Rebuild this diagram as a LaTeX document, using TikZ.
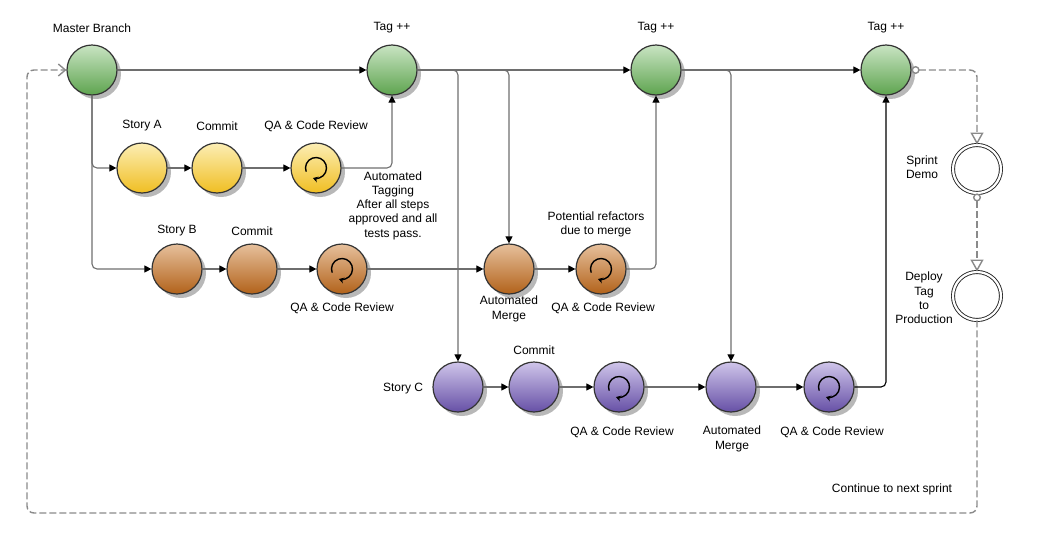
\documentclass[tikz,border=0pt]{standalone}
\usepackage{fontspec}
\setmainfont{Liberation Sans}
\usetikzlibrary{arrows.meta,shadows,calc}
\definecolor{gTop}{HTML}{C9E4C3}
\definecolor{gBot}{HTML}{5EA44F}
\definecolor{yTop}{HTML}{FCEEB4}
\definecolor{yBot}{HTML}{F0BE22}
\definecolor{bTop}{HTML}{E6C09C}
\definecolor{bBot}{HTML}{B2621A}
\definecolor{pTop}{HTML}{CFC5EA}
\definecolor{pBot}{HTML}{6650A6}
\definecolor{lineGray}{HTML}{6E6E6E}
\definecolor{dashGray}{HTML}{8A8A8A}
\newcommand\qaicon[1]{\draw[line width=1.4pt,black,-{Stealth[length=5pt,width=6pt]}] ($(#1)+(200:10.5pt)$) arc[start angle=200, end angle=-107, radius=10.5pt];}
\begin{document}
\begin{tikzpicture}[x=1pt,y=1pt,
  lbl/.style={font=\fontsize{12}{14.3}\selectfont, align=center, inner sep=0pt},
  circ/.style={circle, minimum size=50pt, inner sep=0pt, draw=black!80, line width=1.2pt,
     drop shadow={shadow xshift=4pt, shadow yshift=-4pt, fill=black, opacity=0.28}},
  gnode/.style={circ, top color=gTop, bottom color=gBot},
  ynode/.style={circ, top color=yTop, bottom color=yBot},
  bnode/.style={circ, top color=bTop, bottom color=bBot},
  pnode/.style={circ, top color=pTop, bottom color=pBot},
  evnode/.style={circle, minimum size=48pt, inner sep=0pt, draw=black!85, line width=0.9pt,
     double=white, double distance=2.2pt, fill=white},
  conn/.style={draw=lineGray, line width=1.1pt, rounded corners=5pt,
     -{Triangle[length=7pt,width=7pt,color=black]}},
  dashline/.style={draw=dashGray, line width=1.4pt, dash pattern=on 7pt off 3pt, rounded corners=7pt},
]
\useasboundingbox (0,0) rectangle (1055,-536);

% master row
\node[gnode] (M) at (92,-70) {};
\node[gnode] (T1) at (392,-70) {};
\node[gnode] (T2) at (656,-70) {};
\node[gnode] (T3) at (886,-70) {};

% story A
\node[ynode] (A1) at (142,-168) {};
\node[ynode] (A2) at (217,-168) {};
\node[ynode] (A3) at (316,-168) {};

% story B
\node[bnode] (B1) at (177,-269) {};
\node[bnode] (B2) at (252,-269) {};
\node[bnode] (B3) at (342,-269) {};
\node[bnode] (B4) at (509,-269) {};
\node[bnode] (B5) at (601,-269) {};

% story C
\node[pnode] (C1) at (458,-387) {};
\node[pnode] (C2) at (534,-387) {};
\node[pnode] (C3) at (619,-387) {};
\node[pnode] (C4) at (731,-387) {};
\node[pnode] (C5) at (829,-387) {};

% events
\node[evnode] (SD) at (977,-169) {};
\node[evnode] (DP) at (977,-296) {};

\qaicon{A3}
\qaicon{B3}
\qaicon{B5}
\qaicon{C3}
\qaicon{C5}

% connectors
\draw[conn] (M) -- (T1);
\draw[conn] (T1) -- (T2);
\draw[conn] (T2) -- (T3);
\draw[conn] (M.south) |- (A1.west);
\draw[conn] (M.south) |- (B1.west);
\draw[conn] (A1) -- (A2);
\draw[conn] (A2) -- (A3);
\draw[conn] (A3.east) -| (T1.south);
\draw[conn] (T1.east) -| (C1.north);
\draw[conn] (T1.east) -| (B4.north);
\draw[conn] (B1) -- (B2);
\draw[conn] (B2) -- (B3);
\draw[conn] (B3) -- (B4);
\draw[conn] (B4) -- (B5);
\draw[conn] (B5.east) -| (T2.south);
\draw[conn] (T2.east) -| (C4.north);
\draw[conn] (C1) -- (C2);
\draw[conn] (C2) -- (C3);
\draw[conn] (C3) -- (C4);
\draw[conn] (C4) -- (C5);
\draw[conn, draw=black] (C5.east) -| (T3.south);

% dashed flow
\coordinate (loopR) at (977,-513);
\coordinate (loopL) at (27,-513);
\draw[dashline, {Circle[open,length=8pt,width=8pt,fill=white,color=dashGray]}-{Triangle[open,length=12pt,width=13pt,fill=white,color=dashGray]}] (T3.east) -| (SD.north);
\draw[dashline, {Circle[open,length=8pt,width=8pt,fill=white,color=dashGray]}-{Triangle[open,length=12pt,width=13pt,fill=white,color=dashGray]}] (SD.south) -- (DP.north);
\draw[dashline, -{Straight Barb[length=7pt,width=12pt,color=dashGray]}] (DP.south) -- (loopR) -- (loopL) |- (M.west);

% labels
\node[lbl] (lM) at (92,-28) {Master Branch};
\node[lbl] (lT1) at (392,-28) {Tag ++};
\node[lbl] (lT2) at (656,-28) {Tag ++};
\node[lbl] (lT3) at (886,-28) {Tag ++};
\node[lbl] (lA1) at (142,-126) {Story A};
\node[lbl] (lA2) at (217,-126) {Commit};
\node[lbl] (lA3) at (316,-126) {QA \& Code Review};
\node[lbl] (lAT) at (393,-205.5) {Automated\\Tagging\\After all steps\\approved and all\\tests pass.};
\node[lbl] (lB1) at (177,-231) {Story B};
\node[lbl] (lB2) at (252,-231) {Commit};
\node[lbl] (lB3) at (342,-308) {QA \& Code Review};
\node[lbl] (lB4) at (509,-309) {Automated\\Merge};
\node[lbl] (lB5a) at (596,-224.5) {Potential refactors\\due to merge};
\node[lbl] (lB5) at (603,-308) {QA \& Code Review};
\node[lbl] (lC1) at (403,-389) {Story C};
\node[lbl] (lC2) at (534,-350) {Commit};
\node[lbl] (lC3) at (622,-432) {QA \& Code Review};
\node[lbl] (lC4) at (732,-439) {Automated\\Merge};
\node[lbl] (lC5) at (832,-432) {QA \& Code Review};
\node[lbl] (lSD) at (922,-167.5) {Sprint\\Demo};
\node[lbl] (lDP) at (924,-298) {Deploy\\Tag\\to\\Production};
\node[lbl] (lCN) at (892,-489) {Continue to next sprint};
\end{tikzpicture}
\end{document}
